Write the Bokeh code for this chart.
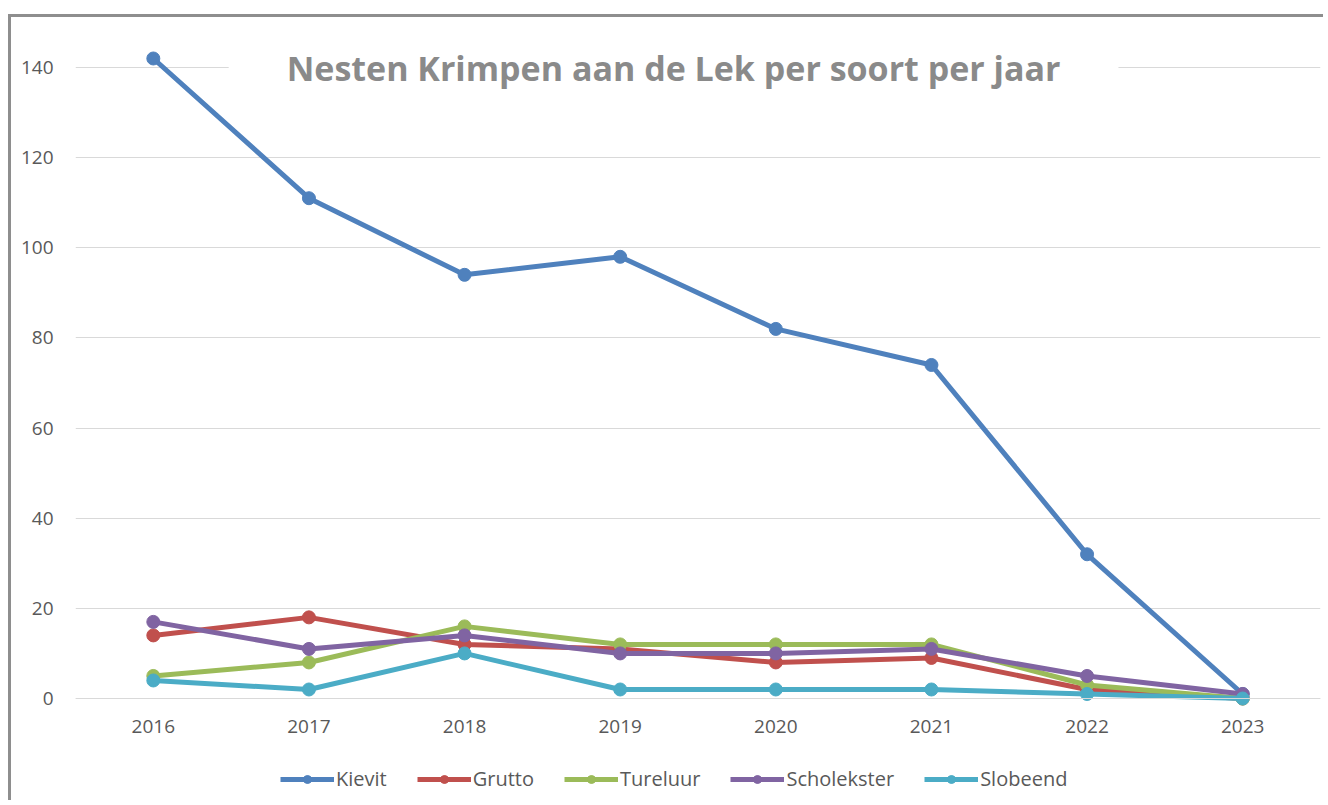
from bokeh.plotting import figure
from bokeh.models import Range1d, FactorRange, Legend, LegendItem, Label, FixedTicker
from bokeh.embed import file_html
from bokeh.resources import INLINE

years = ["2016", "2017", "2018", "2019", "2020", "2021", "2022", "2023"]
kievit = [142, 111, 94, 98, 82, 74, 32, 1]
grutto = [14, 18, 12, 11, 8, 9, 2, 0]
tureluur = [5, 8, 16, 12, 12, 12, 3, 0]
scholekster = [17, 11, 14, 10, 10, 11, 5, 1]
slobeend = [4, 2, 10, 2, 2, 2, 1, 0]
y_ticks = [0, 20, 40, 60, 80, 100, 120, 140]

series = [
    ("Kievit", kievit, "#4F81BD"),
    ("Grutto", grutto, "#C0504D"),
    ("Tureluur", tureluur, "#9BBB59"),
    ("Scholekster", scholekster, "#8064A2"),
    ("Slobeend", slobeend, "#4BACC6"),
]

FONT = "Open Sans"
PX_PER_UNIT = 631 / 140.0
H = 786
TOP = 28
ZERO_Y = 681  # canvas y of value 0
y_end = (ZERO_Y - TOP) / PX_PER_UNIT
y_start = -(H - ZERO_Y) / PX_PER_UNIT

p = figure(
    width=1315, height=H,
    x_range=FactorRange(*years, range_padding=0),
    y_range=Range1d(y_start, y_end),
    output_backend="svg", toolbar_location=None,
    min_border_left=64, min_border_right=6, min_border_top=TOP, min_border_bottom=0,
)
p.styles = {"margin-left": "8px", "margin-top": "14px",
            "border-top": "3px solid #8e8e8e", "border-left": "3px solid #8e8e8e"}
p.outline_line_color = None
p.background_fill_color = "white"
p.border_fill_color = "white"

p.xgrid.grid_line_color = None
p.ygrid.grid_line_color = "#d9d9d9"
p.ygrid.grid_line_width = 1
p.yaxis.ticker = FixedTicker(ticks=y_ticks)

p.yaxis.axis_line_color = None
p.yaxis.major_tick_line_color = None
p.yaxis.minor_tick_line_color = None
p.yaxis.major_tick_out = 0
p.yaxis.major_label_standoff = 22
p.yaxis.major_label_text_font = FONT
p.yaxis.major_label_text_font_size = "19px"
p.yaxis.major_label_text_color = "#595959"

p.xaxis.fixed_location = 0
p.xaxis.axis_line_color = "#d9d9d9"
p.xaxis.major_tick_line_color = None
p.xaxis.minor_tick_line_color = None
p.xaxis.major_tick_out = 0
p.xaxis.major_label_standoff = 21
p.xaxis.major_label_text_font = FONT
p.xaxis.major_label_text_font_size = "19px"
p.xaxis.major_label_text_color = "#595959"

items = []
for name, vals, col in series:
    r1 = p.line(years, vals, line_color=col, line_width=5)
    r2 = p.scatter(years, vals, marker="circle", size=13, fill_color=col, line_color=col)
    items.append(LegendItem(label=name, renderers=[r1, r2]))

legend = Legend(items=items, orientation="horizontal", location=(205, 11),
                glyph_width=54, glyph_height=20, label_height=20, label_standoff=2,
                spacing=30, padding=0, margin=0,
                border_line_color=None, background_fill_alpha=0,
                label_text_font=FONT, label_text_font_size="20px", label_text_color="#595959")
p.add_layout(legend, "center")

title = Label(x=3.843, y=140, text="Nesten Krimpen aan de Lek per soort per jaar",
              text_align="center", text_baseline="middle",
              text_font=FONT, text_font_style="bold", text_font_size="34px", text_color="#8a8a8a",
              background_fill_color="white", padding=dict(left=58, right=58, top=4, bottom=4))
p.add_layout(title)

open("out.html", "w").write(file_html(p, INLINE))
